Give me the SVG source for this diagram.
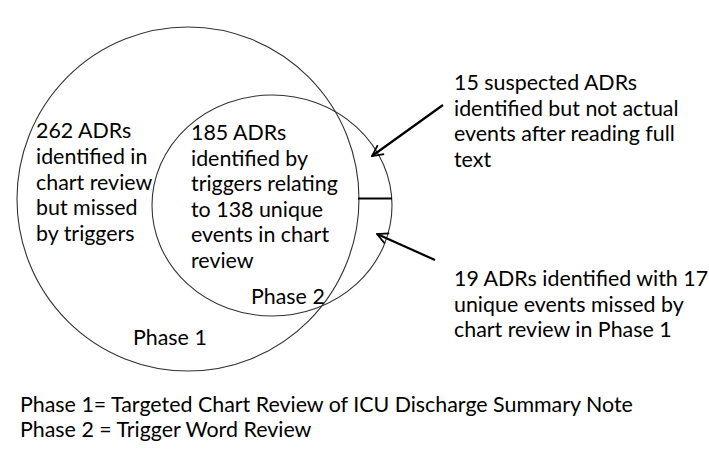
<svg xmlns="http://www.w3.org/2000/svg" width="709" height="467" viewBox="0 0 709 467">
<style>
.c{fill:none;stroke:#333;stroke-width:1.1}
.t{font-family:Lato,"Open Sans",sans-serif;font-size:21.4px;fill:#000}
.a{fill:none;stroke:#000;stroke-width:2.2}
</style>
<defs>
<marker id="ah" viewBox="0 0 12 12" refX="11" refY="6" markerWidth="6" markerHeight="6" markerUnits="strokeWidth" orient="auto">
<path d="M1,1 L11,6 L1,11" fill="none" stroke="#000" stroke-width="1.6"/>
</marker>
</defs>
<rect width="709" height="467" fill="#fff"/>
<g id="phase1">
<ellipse class="c" cx="188" cy="199" rx="171" ry="172"/>
<text class="t" x="36" y="138">262 ADRs</text>
<text class="t" x="36" y="164">identified in</text>
<text class="t" x="36" y="190">chart review</text>
<text class="t" x="36" y="215">but missed</text>
<text class="t" x="36" y="241">by triggers</text>
<text class="t" x="133" y="345">Phase 1</text>
</g>
<g id="phase2">
<ellipse class="c" cx="272" cy="205.5" rx="120" ry="110.5"/>
<text class="t" x="191" y="140">185 ADRs</text>
<text class="t" x="191" y="166">identified by</text>
<text class="t" x="191" y="191">triggers relating</text>
<text class="t" x="191" y="217">to 138 unique</text>
<text class="t" x="191" y="242">events in chart</text>
<text class="t" x="191" y="268">review</text>
<text class="t" x="251" y="304">Phase 2</text>
</g>
<g id="note1">
<text class="t" x="454" y="90">15 suspected ADRs</text>
<text class="t" x="454" y="116">identified but not actual</text>
<text class="t" x="454" y="141">events after reading full</text>
<text class="t" x="454" y="167">text</text>
</g>
<g id="note2">
<text class="t" x="454" y="286">19 ADRs identified with 17</text>
<text class="t" x="454" y="312">unique events missed by</text>
<text class="t" x="454" y="337">chart review in Phase 1</text>
</g>
<g id="legend">
<text class="t" x="20" y="412">Phase 1= Targeted Chart Review of ICU Discharge Summary Note</text>
<text class="t" x="20" y="437">Phase 2 = Trigger Word Review</text>
</g>
<g id="connectors">
<line class="a" x1="443" y1="105" x2="372" y2="156" marker-end="url(#ah)"/>
<line class="a" x1="435" y1="260" x2="377" y2="234" marker-end="url(#ah)"/>
<line class="a" x1="358" y1="198.5" x2="392" y2="198.5"/>
</g>
</svg>
